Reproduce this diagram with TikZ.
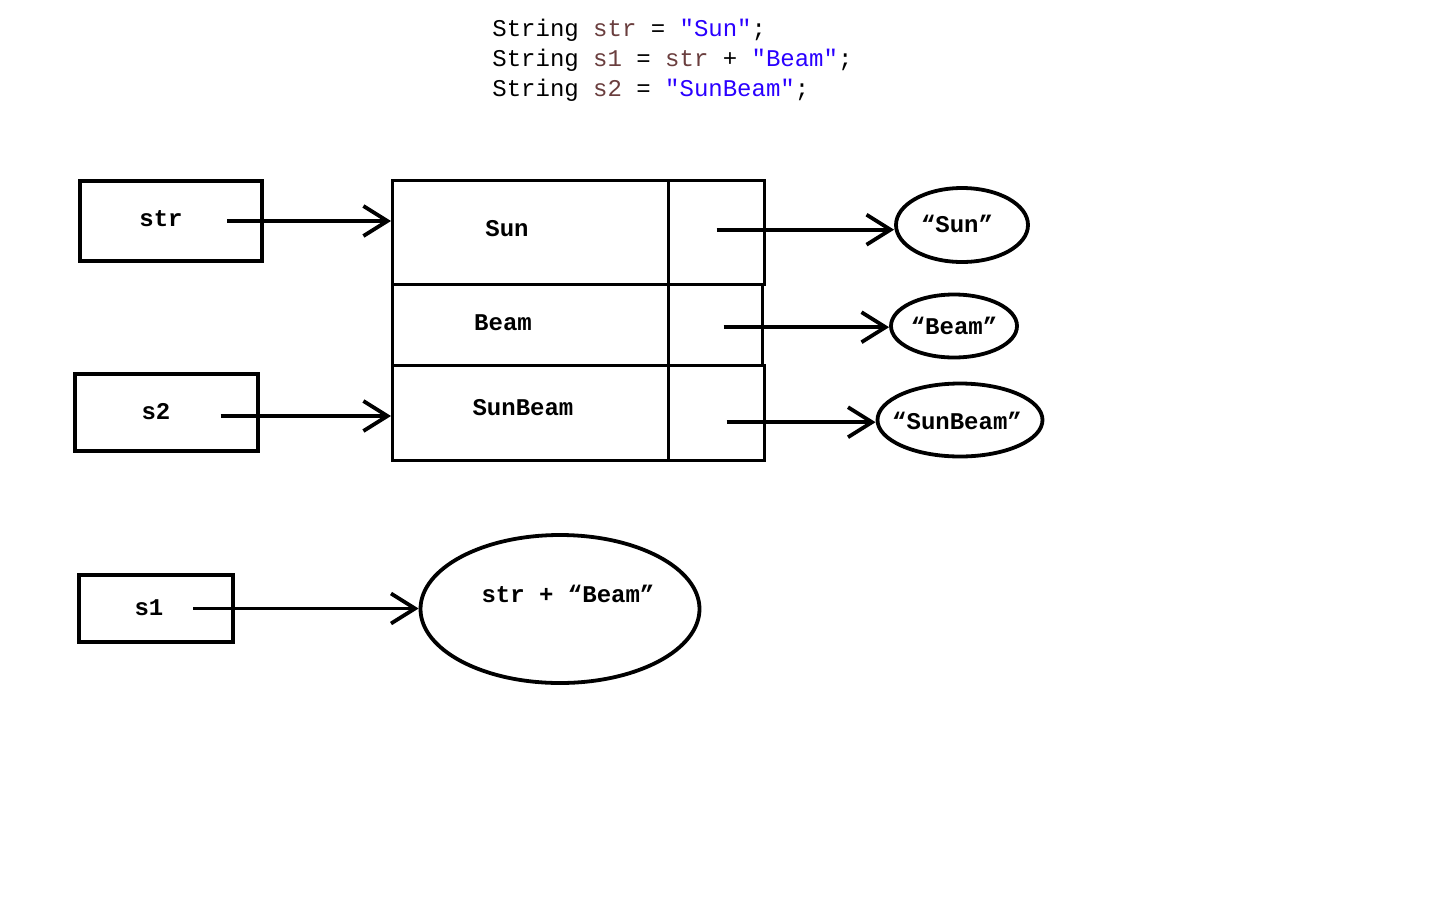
\documentclass[tikz,border=0pt]{standalone}
\usepackage{fontspec}
\setmonofont{Liberation Mono}
\usetikzlibrary{arrows.meta,shapes.geometric}
\definecolor{varcol}{HTML}{6A3E3E}
\definecolor{strcol}{HTML}{2A00FF}
\tikzstyle{var}=[draw,line width=1.7pt,rectangle,inner sep=0pt]
\tikzstyle{cell}=[draw,line width=1.7pt,rectangle,inner sep=0pt,anchor=north west]
\tikzstyle{obj}=[draw,line width=1.9pt,ellipse,inner sep=0pt]
\tikzstyle{lbl}=[font=\ttfamily\bfseries\fontsize{12}{14}\selectfont]
\tikzstyle{code}=[anchor=base west,inner sep=0pt,font=\ttfamily\fontsize{12}{15}\selectfont]
\tikzstyle{ref}=[-{Straight Barb[length=12pt,width=15pt,line width=1.9pt]},line width=1.9pt]

\begin{document}
\begin{tikzpicture}[x=0.5pt,y=-0.5pt]
	\useasboundingbox (0,0) rectangle (1440,900);
	% code
	\node[code] (L1) at (492,36) {String \textcolor{varcol}{str} = \textcolor{strcol}{"Sun"};};
	\node[code] (L2) at (492,66) {String \textcolor{varcol}{s1} = \textcolor{varcol}{str} + \textcolor{strcol}{"Beam"};};
	\node[code] (L3) at (492,96) {String \textcolor{varcol}{s2} = \textcolor{strcol}{"SunBeam"};};

	% variables
	\node[var,minimum width=91pt,minimum height=40pt] (str) at (171,221) {};
	\node[lbl] at (161,219) {str};
	\node[var,minimum width=91.5pt,minimum height=38.5pt] (s2) at (166.5,412.5) {};
	\node[lbl] at (156,412) {s2};
	\node[var,minimum width=77pt,minimum height=33.5pt] (s1) at (156,608.5) {};
	\node[lbl] at (149,608) {s1};

	% pool table
	\node[cell,minimum width=138pt,minimum height=52pt] (row1) at (391,179) {};
	\node[cell,minimum width=138pt,minimum height=40.5pt] (row2) at (391,283) {};
	\node[cell,minimum width=138pt,minimum height=47.5pt] (row3) at (391,364) {};
	\node[cell,minimum width=48pt,minimum height=52pt] (ref1) at (667,179) {};
	\node[cell,minimum width=47pt,minimum height=40.5pt] (ref2) at (667,283) {};
	\node[cell,minimum width=48pt,minimum height=47.5pt] (ref3) at (667,364) {};
	\node[lbl] at (507,229) {Sun};
	\node[lbl] at (503,323) {Beam};
	\node[lbl] at (523,408) {SunBeam};

	% objects
	\node[obj,minimum width=66pt,minimum height=37pt] (o1) at (962,225) {};
	\node[lbl] at (957,224) {“Sun”};
	\node[obj,minimum width=63pt,minimum height=31.5pt] (o2) at (954,326) {};
	\node[lbl] at (954,326) {“Beam”};
	\node[obj,minimum width=82.5pt,minimum height=36.5pt] (o3) at (960,420) {};
	\node[lbl] at (957,421) {“SunBeam”};
	\node[obj,minimum width=139.5pt,minimum height=74pt] (o4) at (560,609) {};
	\node[lbl] at (568,594) {str + “Beam”};

	% references
	\draw[ref] ([xshift=28pt]str.center) -- (str.center -| row1.west);
	\draw[ref] ([xshift=27pt,yshift=-1.75pt]s2.center) -- ([yshift=-1.75pt]s2.center -| row3.west);
	\draw[ref] ([xshift=18.5pt]s1.center) -- (s1.center -| o4.west);
	\draw[ref] ([yshift=1.5pt]ref1.center) -- ([yshift=1.5pt]ref1.center -| o1.west);
	\draw[ref] ([xshift=4pt,yshift=-1pt]ref2.center) -- ([yshift=-1pt]ref2.center -| o2.west);
	\draw[ref] ([xshift=5pt,yshift=-4.5pt]ref3.center) -- ([yshift=-4.5pt]ref3.center -| o3.west);
\end{tikzpicture}
\end{document}
